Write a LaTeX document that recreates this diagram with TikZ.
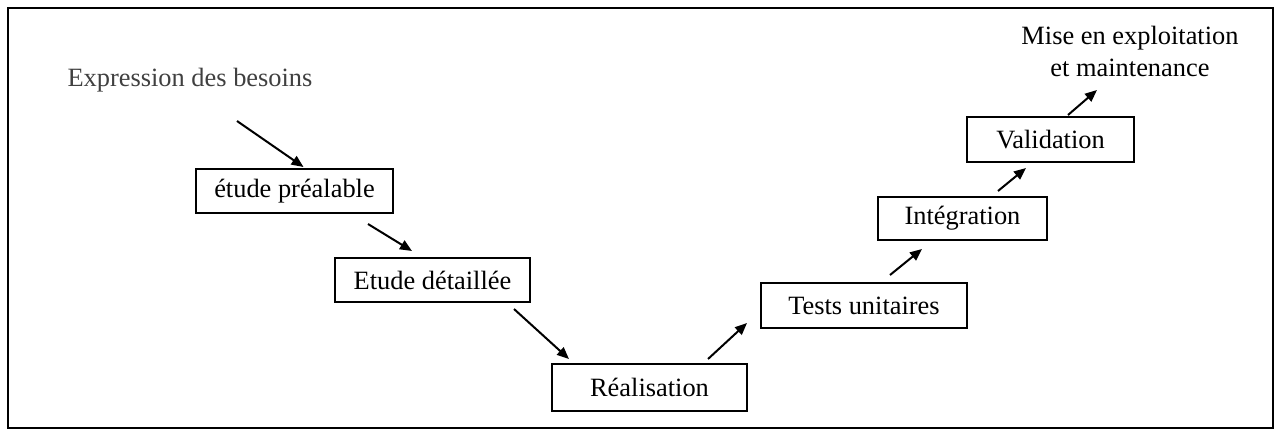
\documentclass[tikz,border=0pt]{standalone}
\usepackage{fontspec}
\setmainfont{Liberation Serif}
\usetikzlibrary{arrows.meta}
\tikzset{phase/.style={draw,line width=2pt,inner sep=0pt,font=\fontsize{26.4}{32}\selectfont},
	 lbl/.style={inner sep=0pt,align=center,font=\fontsize{26.4}{32}\selectfont},
	 fl/.style={line width=2pt,-{Triangle[length=12pt,width=10pt]}}
	 }

\begin{document}
\begin{tikzpicture}[x=1pt,y=-1pt] % cycle en V
	\useasboundingbox (0,0) rectangle (1280,432);
	\draw[line width=2.5pt] (8,8) rectangle (1273,428);
	\node[lbl,text=black!75] (exp) at (190,80) {Expression des besoins};
	\node[phase,minimum width=197pt,minimum height=44pt] (pre) at (294.5,191) {étude préalable};
	\node[phase,minimum width=195pt,minimum height=44pt] (det) at (432.5,280) {Etude détaillée};
	\node[phase,minimum width=195pt,minimum height=47pt] (rea) at (649.5,387.5) {Réalisation};
	\node[phase,minimum width=206pt,minimum height=45pt] (tst) at (864,305.5) {Tests unitaires};
	\node[phase,minimum width=169pt,minimum height=43pt] (itg) at (962.5,218.5) {Intégration};
	\node[phase,minimum width=167pt,minimum height=45pt] (val) at (1050.5,139.5) {Validation};
	\node[lbl] (mise) at (1130,51) {Mise en exploitation\\et maintenance};
	\draw[fl] ([shift={(47,41)}]exp.center) to ([shift={(9,-1)}]pre.north);
	\draw[fl] ([shift={(-26,10)}]pre.south east) to ([shift={(-20.5,-6)}]det.north);
	\draw[fl] ([shift={(-17,6)}]det.south east) to ([shift={(18,-4)}]rea.north west);
	\draw[fl] ([shift={(-40,-4)}]rea.north east) to ([shift={(-13,-6)}]tst.south west);
	\draw[fl] ([shift={(26,-7)}]tst.north) to ([shift={(45,8)}]itg.south west);
	\draw[fl] ([shift={(35.5,-5)}]itg.north) to ([shift={(-24.5,5)}]val.south);
	\draw[fl] ([shift={(17.5,-1)}]val.north) to ([shift={(-33,39)}]mise.center);
\end{tikzpicture}
\end{document}
